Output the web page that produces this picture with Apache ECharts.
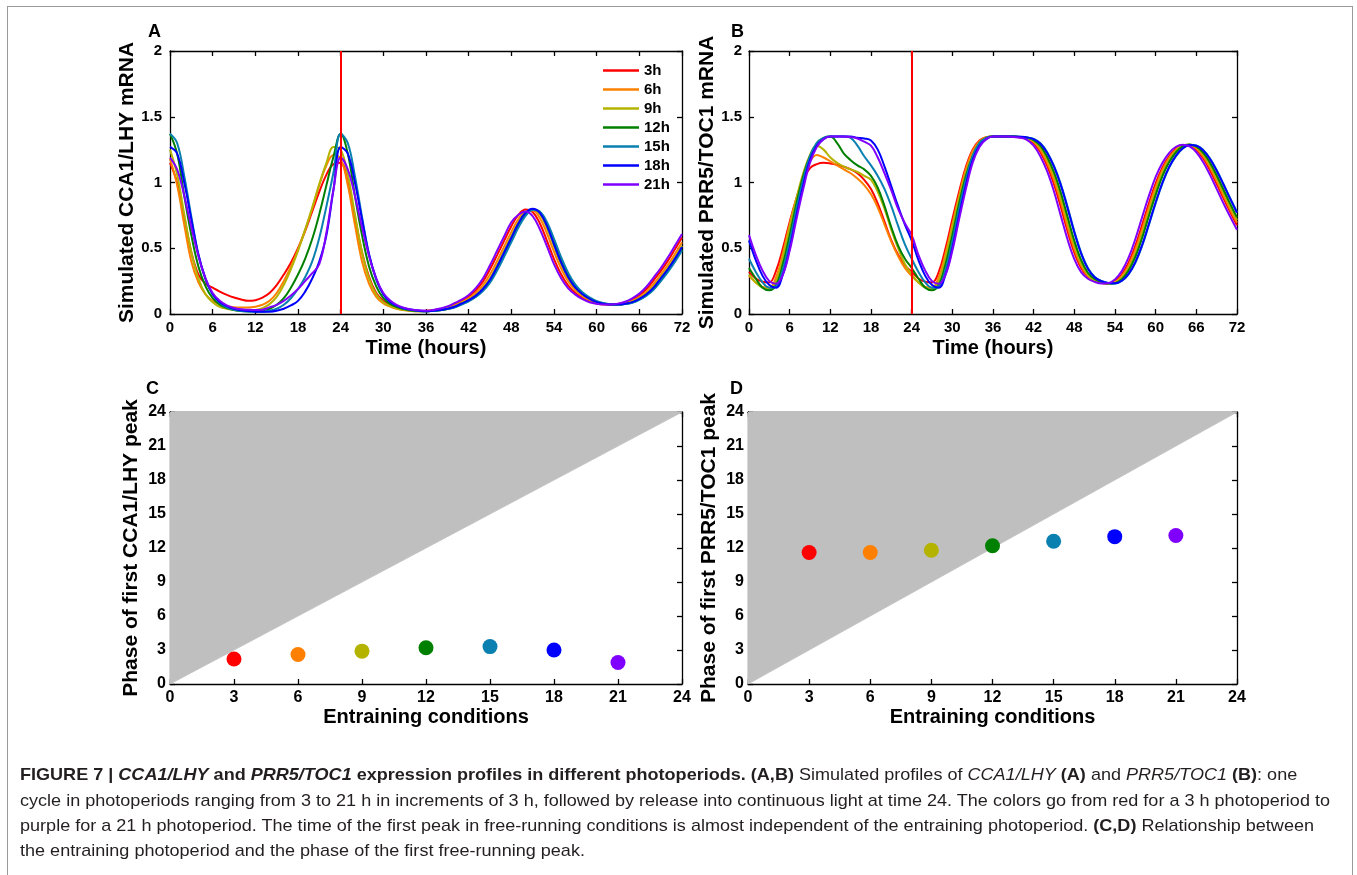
<!DOCTYPE html>
<html>
<head>
<meta charset="utf-8">
<script src="https://cdn.jsdelivr.net/npm/echarts@6/dist/echarts.min.js"></script>
<style>
  html, body { margin:0; padding:0; background:#fff; }
  #wrap { position:relative; width:1357px; height:875px; overflow:hidden; }
  #frame { position:absolute; left:7px; top:6px; width:1346px; height:900px; border:1.5px solid #9a9a9a; box-sizing:border-box; }
  #chart { position:absolute; left:0; top:0; width:1357px; height:875px; }
  .capline { position:absolute; left:20px; white-space:nowrap; font-family:'Liberation Sans Narrow','Liberation Sans',Arial,sans-serif; font-size:17px; color:#231f20; transform-origin:0 50%; line-height:20px; }
</style>
</head>
<body>
<div id="wrap">
  <div id="frame"></div>
  <div id="chart"></div>
  <div class="capline" style="top:765px"><b>FIGURE 7 | <i>CCA1/LHY</i> and <i>PRR5/TOC1</i> expression profiles in different photoperiods. (A,B)</b> Simulated profiles of <i>CCA1/LHY</i> <b>(A)</b> and <i>PRR5/TOC1</i> <b>(B)</b>: one</div>
  <div class="capline" style="top:791px">cycle in photoperiods ranging from 3 to 21 h in increments of 3 h, followed by release into continuous light at time 24. The colors go from red for a 3 h photoperiod to</div>
  <div class="capline" style="top:816px">purple for a 21 h photoperiod. The time of the first peak in free-running conditions is almost independent of the entraining photoperiod. <b>(C,D)</b> Relationship between</div>
  <div class="capline" style="top:841px">the entraining photoperiod and the phase of the first free-running peak.</div>
</div>
<script>
// ---------------- DATA ----------------
const photoperiods = ['3h','6h','9h','12h','15h','18h','21h'];
const colors = ['#ff0000','#ff8000','#b3b300','#008000','#0a80b0','#0000ff','#8000ff'];
const releaseTime = 24;

const hours = [0,1,2,3,4,5,6,7,8,9,10,11,12,13,14,15,16,17,18,19,20,21,22,23,24,25,26,27,28,29,30,31,32,33,34,35,36,37,38,39,40,41,42,43,44,45,46,47,48,49,50,51,52,53,54,55,56,57,58,59,60,61,62,63,64,65,66,67,68,69,70,71,72];

// Panel A: simulated CCA1/LHY mRNA
const cca1_3h = [1.15,1.0,0.74,0.47,0.3,0.23,0.2,0.17,0.145,0.125,0.11,0.1,0.105,0.125,0.16,0.22,0.3,0.39,0.5,0.63,0.78,0.93,1.06,1.14,1.15,1.0,0.74,0.47,0.28,0.16,0.1,0.065,0.045,0.032,0.025,0.022,
  0.024,0.029,0.038,0.052,0.075,0.1,0.133,0.18,0.246,0.34,0.448,0.558,0.668,0.754,0.794,0.776,0.69,0.558,0.418,0.302,0.216,0.16,0.122,0.095,0.08,0.073,0.072,0.077,0.088,0.11,0.143,0.19,0.256,0.326,0.404,0.492,0.582];
const cca1_6h = [1.18,0.98,0.68,0.4,0.24,0.15,0.1,0.075,0.06,0.052,0.05,0.05,0.055,0.07,0.1,0.16,0.25,0.36,0.49,0.64,0.8,0.98,1.13,1.21,1.18,0.98,0.68,0.4,0.23,0.13,0.08,0.055,0.038,0.028,0.023,0.021,
  0.022,0.027,0.034,0.046,0.065,0.09,0.119,0.16,0.218,0.3,0.404,0.514,0.624,0.722,0.782,0.788,0.73,0.614,0.474,0.346,0.248,0.18,0.136,0.105,0.085,0.076,0.072,0.074,0.083,0.1,0.129,0.17,0.228,0.298,0.372,0.456,0.546];
const cca1_9h = [1.25,1.06,0.76,0.47,0.27,0.15,0.09,0.055,0.04,0.03,0.025,0.025,0.03,0.045,0.075,0.13,0.22,0.34,0.48,0.64,0.81,0.99,1.15,1.27,1.25,1.06,0.76,0.47,0.27,0.15,0.09,0.06,0.04,0.03,0.023,0.021,
  0.021,0.026,0.031,0.042,0.058,0.083,0.109,0.145,0.197,0.27,0.371,0.481,0.591,0.698,0.773,0.797,0.76,0.656,0.516,0.379,0.272,0.195,0.147,0.113,0.089,0.077,0.072,0.073,0.079,0.093,0.119,0.155,0.207,0.277,0.348,0.429,0.519];
const cca1_12h = [1.37,1.22,0.9,0.6,0.36,0.21,0.12,0.07,0.045,0.03,0.022,0.02,0.02,0.028,0.04,0.07,0.12,0.2,0.3,0.42,0.57,0.76,0.98,1.2,1.37,1.22,0.9,0.6,0.36,0.21,0.12,0.075,0.05,0.035,0.026,0.022,
  0.02,0.024,0.029,0.038,0.052,0.075,0.1,0.133,0.18,0.246,0.34,0.448,0.558,0.668,0.754,0.794,0.776,0.69,0.558,0.418,0.302,0.216,0.16,0.122,0.095,0.08,0.073,0.072,0.077,0.088,0.11,0.143,0.19,0.256,0.326,0.404,0.492];
const cca1_15h = [1.37,1.3,1.05,0.74,0.45,0.26,0.15,0.085,0.05,0.032,0.022,0.018,0.017,0.018,0.025,0.04,0.07,0.12,0.19,0.28,0.4,0.58,0.82,1.08,1.37,1.3,1.05,0.74,0.45,0.26,0.15,0.09,0.06,0.04,0.03,0.024,
  0.02,0.0235,0.0285,0.037,0.05,0.072,0.097,0.13,0.175,0.239,0.33,0.437,0.547,0.657,0.746,0.791,0.779,0.7,0.572,0.432,0.313,0.224,0.165,0.126,0.098,0.082,0.074,0.072,0.076,0.086,0.108,0.14,0.185,0.249,0.319,0.396,0.483];
const cca1_18h = [1.27,1.22,1.0,0.72,0.45,0.27,0.15,0.09,0.06,0.04,0.028,0.022,0.018,0.017,0.018,0.025,0.04,0.065,0.1,0.17,0.27,0.4,0.6,0.95,1.27,1.22,1.0,0.72,0.45,0.27,0.15,0.09,0.06,0.042,0.032,0.025,
  0.02,0.025,0.03,0.04,0.055,0.08,0.105,0.14,0.19,0.26,0.36,0.47,0.58,0.69,0.77,0.8,0.77,0.67,0.53,0.39,0.28,0.2,0.15,0.115,0.09,0.078,0.072,0.072,0.078,0.09,0.115,0.15,0.2,0.27,0.34,0.42,0.51];
const cca1_21h = [1.19,1.1,0.9,0.66,0.44,0.27,0.16,0.1,0.065,0.046,0.036,0.032,0.03,0.033,0.05,0.07,0.1,0.14,0.19,0.25,0.31,0.38,0.62,0.95,1.19,1.1,0.9,0.66,0.44,0.27,0.16,0.1,0.065,0.045,0.034,0.028,
  0.0255,0.031,0.0415,0.0575,0.0825,0.1085,0.145,0.197,0.27,0.371,0.481,0.591,0.698,0.755,0.78,0.745,0.645,0.516,0.379,0.272,0.195,0.147,0.113,0.089,0.077,0.072,0.073,0.079,0.093,0.119,0.155,0.207,0.277,0.348,0.429,0.519,0.608];

// Panel B: simulated PRR5/TOC1 mRNA
const prr5_3h = [0.32,0.27,0.245,0.24,0.33,0.5,0.7,0.88,1.02,1.11,1.14,1.15,1.145,1.135,1.12,1.1,1.07,1.02,0.95,0.84,0.7,0.56,0.45,0.37,0.32,0.27,0.245,0.24,0.32,0.5,0.72,0.93,1.12,1.25,1.32,1.345,
  1.35,1.35,1.35,1.348,1.343,1.331,1.298,1.23,1.126,0.988,0.815,0.629,0.467,0.35,0.282,0.251,0.236,0.232,0.251,0.302,0.39,0.518,0.677,0.842,0.993,1.115,1.2,1.258,1.285,1.281,1.248,1.184,1.095,0.99,0.881,0.775,0.675];
const prr5_6h = [0.29,0.24,0.205,0.2,0.28,0.46,0.68,0.88,1.04,1.16,1.21,1.19,1.16,1.13,1.1,1.07,1.03,0.98,0.91,0.81,0.68,0.55,0.44,0.35,0.29,0.24,0.205,0.2,0.28,0.46,0.68,0.9,1.1,1.24,1.315,1.345,
  1.35,1.35,1.35,1.349,1.344,1.335,1.308,1.248,1.15,1.02,0.853,0.665,0.495,0.368,0.29,0.255,0.238,0.231,0.244,0.288,0.368,0.488,0.643,0.81,0.965,1.095,1.188,1.25,1.283,1.285,1.258,1.2,1.115,1.013,0.903,0.795,0.695];
const prr5_9h = [0.3,0.24,0.2,0.19,0.25,0.43,0.66,0.88,1.07,1.21,1.28,1.25,1.19,1.15,1.12,1.1,1.08,1.05,1.02,0.93,0.8,0.64,0.5,0.38,0.3,0.24,0.2,0.19,0.25,0.43,0.66,0.88,1.07,1.21,1.3,1.34,
  1.35,1.35,1.35,1.35,1.345,1.339,1.318,1.266,1.174,1.052,0.89,0.701,0.523,0.386,0.298,0.259,0.24,0.23,0.237,0.274,0.346,0.458,0.609,0.778,0.937,1.075,1.174,1.242,1.28,1.289,1.268,1.216,1.135,1.035,0.925,0.815,0.715];
const prr5_12h = [0.35,0.27,0.2,0.18,0.22,0.38,0.6,0.84,1.05,1.2,1.3,1.34,1.35,1.3,1.22,1.17,1.13,1.1,1.05,0.96,0.82,0.66,0.52,0.42,0.35,0.27,0.2,0.18,0.22,0.38,0.6,0.84,1.05,1.2,1.3,1.34,
  1.35,1.35,1.35,1.35,1.346,1.341,1.323,1.278,1.194,1.078,0.924,0.739,0.557,0.411,0.314,0.266,0.243,0.232,0.234,0.265,0.33,0.434,0.578,0.745,0.906,1.049,1.155,1.23,1.274,1.289,1.273,1.228,1.152,1.055,0.947,0.837,0.735];
const prr5_15h = [0.42,0.32,0.24,0.2,0.21,0.34,0.55,0.8,1.02,1.2,1.3,1.34,1.35,1.35,1.35,1.34,1.28,1.2,1.13,1.05,0.95,0.82,0.67,0.53,0.42,0.32,0.24,0.2,0.21,0.34,0.55,0.8,1.02,1.2,1.3,1.34,
  1.35,1.35,1.35,1.35,1.347,1.342,1.331,1.298,1.23,1.126,0.988,0.815,0.629,0.467,0.35,0.282,0.251,0.236,0.232,0.251,0.302,0.39,0.518,0.677,0.842,0.993,1.115,1.2,1.258,1.285,1.281,1.248,1.184,1.095,0.99,0.88,0.775];
const prr5_18h = [0.56,0.41,0.29,0.22,0.2,0.3,0.5,0.75,0.98,1.17,1.28,1.33,1.35,1.35,1.35,1.35,1.34,1.335,1.32,1.25,1.12,0.97,0.82,0.68,0.56,0.41,0.29,0.22,0.2,0.3,0.5,0.75,0.98,1.17,1.28,1.33,
  1.35,1.35,1.35,1.35,1.348,1.343,1.33,1.295,1.225,1.12,0.98,0.805,0.62,0.46,0.345,0.28,0.25,0.235,0.233,0.253,0.305,0.395,0.525,0.685,0.85,1.0,1.12,1.205,1.26,1.285,1.28,1.245,1.18,1.09,0.985,0.875,0.77];
const prr5_21h = [0.6,0.45,0.33,0.25,0.23,0.3,0.48,0.72,0.95,1.15,1.27,1.33,1.35,1.35,1.35,1.345,1.335,1.31,1.28,1.19,1.07,0.94,0.8,0.69,0.6,0.45,0.33,0.25,0.23,0.3,0.48,0.72,0.95,1.15,1.27,1.33,
  1.35,1.35,1.35,1.346,1.341,1.324,1.28,1.198,1.084,0.932,0.748,0.566,0.418,0.318,0.268,0.244,0.232,0.234,0.263,0.326,0.428,0.57,0.736,0.898,1.042,1.15,1.226,1.272,1.288,1.274,1.23,1.156,1.06,0.952,0.842,0.74,0.64];

// Panels C, D: phase of first free-running peak vs entraining photoperiod
const entraining = [3,6,9,12,15,18,21];
const phaseCCA1 = [2.2,2.6,2.9,3.2,3.3,3.0,1.9];
const phasePRR5 = [11.6,11.6,11.8,12.2,12.6,13.0,13.1];
const diagonal = [[0,0],[24,24]];

// ---------------- CHART ----------------
const FONT = "'Liberation Sans', Arial, Helvetica, sans-serif";
const seriesA = [cca1_3h,cca1_6h,cca1_9h,cca1_12h,cca1_15h,cca1_18h,cca1_21h];
const seriesB = [prr5_3h,prr5_6h,prr5_9h,prr5_12h,prr5_15h,prr5_18h,prr5_21h];

const axisLineStyle = { color:'#000', width:1.3 };
const tickLabel = (size) => ({ color:'#000', fontSize:size, fontWeight:'bold', fontFamily:FONT });
const nameStyle = (size) => ({ color:'#000', fontSize:size, fontWeight:'bold', fontFamily:FONT });

function xPair(grid, max, interval, name, gap, lblSize) {
  const base = { gridIndex:grid, type:'value', min:0, max:max, interval:interval,
    axisLine:{ show:true, onZero:false, lineStyle:axisLineStyle },
    axisTick:{ show:true, inside:true, length:5, lineStyle:axisLineStyle },
    splitLine:{ show:false } };
  return [
    Object.assign({}, base, { position:'bottom', axisLabel:Object.assign({ margin:6 }, tickLabel(lblSize)),
      name:name, nameLocation:'middle', nameGap:gap, nameTextStyle:nameStyle(20) }),
    Object.assign({}, base, { position:'top', axisLabel:{ show:false } })
  ];
}
function yPair(grid, max, interval, name, gap, margin, lblSize) {
  const base = { gridIndex:grid, type:'value', min:0, max:max, interval:interval,
    axisLine:{ show:true, onZero:false, lineStyle:axisLineStyle },
    axisTick:{ show:true, inside:true, length:5, lineStyle:axisLineStyle },
    splitLine:{ show:false } };
  return [
    Object.assign({}, base, { position:'left', axisLabel:Object.assign({ margin:margin }, tickLabel(lblSize)),
      name:name, nameLocation:'middle', nameGap:gap, nameTextStyle:nameStyle(21) }),
    Object.assign({}, base, { position:'right', axisLabel:{ show:false } })
  ];
}

const xAxis = [].concat(
  xPair(0, 72, 6, 'Time (hours)', 24, 15),
  xPair(1, 72, 6, 'Time (hours)', 24, 15),
  xPair(2, 24, 3, 'Entraining conditions', 23, 16),
  xPair(3, 24, 3, 'Entraining conditions', 23, 16)
);
const yAxis = [].concat(
  yPair(0, 2, 0.5, 'Simulated CCA1/LHY mRNA', 32, 8, 15),
  yPair(1, 2, 0.5, 'Simulated PRR5/TOC1 mRNA', 26, 7, 15),
  yPair(2, 24, 3, 'Phase of first CCA1/LHY peak', 28, 4, 16),
  yPair(3, 24, 3, 'Phase of first PRR5/TOC1 peak', 28, 4, 16)
);

const series = [];
function addCurves(list, axisIdx) {
  list.forEach((vals, i) => {
    series.push({
      type:'line', name:photoperiods[i], xAxisIndex:axisIdx, yAxisIndex:axisIdx,
      data: hours.map((h, k) => [h, vals[k]]),
      smooth:0.4, symbol:'none', showSymbol:false,
      lineStyle:{ color:colors[i], width:2 }, itemStyle:{ color:colors[i] },
      animation:false, silent:true
    });
  });
  series.push({
    type:'line', xAxisIndex:axisIdx, yAxisIndex:axisIdx, data:[], symbol:'none', silent:true,
    markLine:{ silent:true, symbol:'none', animation:false, label:{ show:false },
      lineStyle:{ color:'#ff0000', width:2, type:'solid' }, data:[{ xAxis:releaseTime }] }
  });
}
addCurves(seriesA, 0);
addCurves(seriesB, 2);

function addPhase(vals, axisIdx) {
  series.push({
    type:'line', xAxisIndex:axisIdx, yAxisIndex:axisIdx, data:diagonal, symbol:'none', silent:true,
    lineStyle:{ color:'#c4c4c4', width:1 }, areaStyle:{ color:'#bfbfbf', opacity:1, origin:'end' },
    animation:false, z:1
  });
  series.push({
    type:'scatter', xAxisIndex:axisIdx, yAxisIndex:axisIdx, symbolSize:15, silent:true,
    data: entraining.map((e, i) => ({ value:[e, vals[i]], itemStyle:{ color:colors[i], opacity:1 } })),
    animation:false, z:3
  });
}
addPhase(phaseCCA1, 4);
addPhase(phasePRR5, 6);

const letter = (t, x, y) => ({ type:'text', left:x, top:y,
  style:{ text:t, fill:'#000', font:'bold 18px ' + FONT } });

const option = {
  animation:false,
  backgroundColor:'transparent',
  grid:[
    { left:170, top:51, width:512, height:263 },
    { left:749, top:51, width:488, height:263 },
    { left:170, top:412, width:512, height:272 },
    { left:748, top:412, width:489, height:272 }
  ],
  xAxis:xAxis, yAxis:yAxis,
  legend:{ data:photoperiods, orient:'vertical', left:603, top:61, padding:0,
    icon:'rect', itemWidth:36, itemHeight:2.5, itemGap:0,
    selectedMode:false, textStyle:{ color:'#000', fontSize:15, fontWeight:'bold', fontFamily:FONT, lineHeight:19 } },
  graphic:[ letter('A',148,23), letter('B',731,23), letter('C',146,380), letter('D',730,380) ],
  series:series
};

const chart = echarts.init(document.getElementById('chart'), null, { renderer:'canvas' });
chart.setOption(option);

// fit caption lines to the reference width (uniform horizontal scale)
const lines = document.querySelectorAll('.capline');
const w2 = lines[1].getBoundingClientRect().width;
const s = 1310 / w2;
lines.forEach(l => { l.style.transform = 'scaleX(' + s + ')'; });
</script>
</body>
</html>
